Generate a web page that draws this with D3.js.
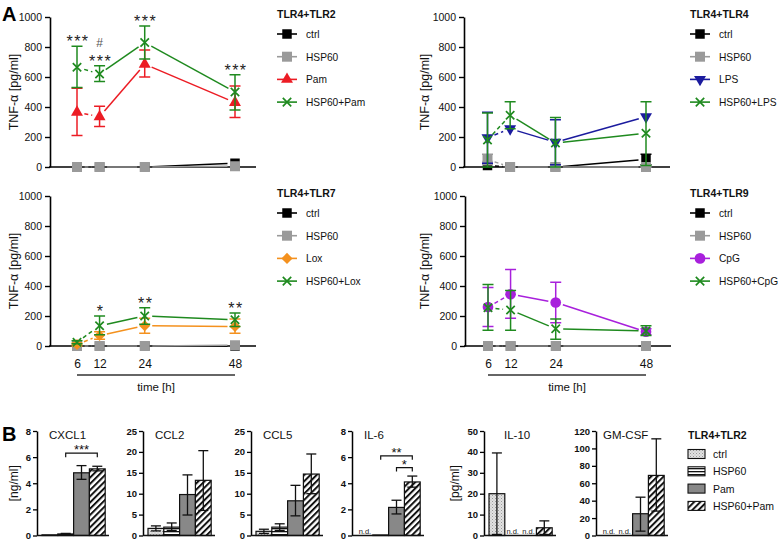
<!DOCTYPE html>
<html><head><meta charset="utf-8">
<script src="https://cdn.jsdelivr.net/npm/d3@7"></script>
<style>
body{margin:0;background:#fff}
svg{display:block;font-family:"Liberation Sans",Arial,Helvetica,sans-serif}
</style>
</head><body>
<svg id="c" width="778" height="541"></svg>
<script>
// ---------- DATA ----------
const hours = [6, 12, 24, 48];
const yTicksA = [0, 200, 400, 600, 800, 1000];

// TLR4+TLR2
const tlr2Ctrl = [0, 0, 0, 25];
const tlr2Hsp = [0, 0, 0, 5];
const tlr2Pam = [365, 335, 685, 430];
const tlr2PamLo = [210, 270, 600, 330];
const tlr2PamHi = [525, 405, 780, 540];
const tlr2Combo = [665, 620, 830, 500];
const tlr2ComboLo = [530, 570, 720, 380];
const tlr2ComboHi = [805, 675, 940, 615];
const tlr2Stars = ["***", "***", "***", "***"];
const tlr2Hash = [null, "#", null, null];

// TLR4+TLR4
const tlr4Ctrl = [10, 0, 0, 50];
const tlr4CtrlLo = [0, 0, 0, 15];
const tlr4CtrlHi = [20, 0, 0, 85];
const tlr4Hsp = [50, 0, 0, 0];
const tlr4HspLo = [15, 0, 0, 0];
const tlr4HspHi = [85, 0, 0, 0];
const tlr4Lps = [195, 255, 165, 335];
const tlr4LpsLo = [25, null, 15, null];
const tlr4LpsHi = [365, null, 315, null];
const tlr4Combo = [180, 345, 160, 225];
const tlr4ComboLo = [0, 255, 0, 10];
const tlr4ComboHi = [360, 435, 330, 435];

// TLR4+TLR7
const tlr7Ctrl = [0, 0, 0, 0];
const tlr7Hsp = [0, 0, 0, 5];
const tlr7Lox = [10, 70, 135, 130];
const tlr7LoxLo = [0, 45, 85, 85];
const tlr7LoxHi = [20, 95, 185, 180];
const tlr7Combo = [25, 135, 200, 175];
const tlr7ComboLo = [15, 75, 145, 130];
const tlr7ComboHi = [35, 200, 255, 220];
const tlr7Stars = [null, "*", "**", "**"];

// TLR4+TLR9
const tlr9Ctrl = [0, 0, 0, 0];
const tlr9Hsp = [0, 0, 0, 0];
const tlr9Cpg = [260, 345, 290, 95];
const tlr9CpgLo = [130, 185, 155, 75];
const tlr9CpgHi = [390, 510, 425, 115];
const tlr9Combo = [255, 240, 115, 100];
const tlr9ComboLo = [105, 105, 45, 70];
const tlr9ComboHi = [410, 370, 180, 135];

// Panel B
const cytokines = ["CXCL1", "CCL2", "CCL5", "IL-6", "IL-10", "GM-CSF"];
const cytoMax = [8, 25, 25, 8, 50, 120];
const cytoStep = [2, 5, 5, 2, 10, 20];
const cytoUnit = ["[ng/ml]", null, null, null, "[pg/ml]", null];
const groupsB = ["ctrl", "HSP60", "Pam", "HSP60+Pam"];
const barCtrl = [0.05, 1.7, 1.0, null, 20, null];
const barCtrlLo = [0.05, 1.1, 0.5, null, 0.5, null];
const barCtrlHi = [0.05, 2.3, 1.5, null, 39.5, null];
const barHsp = [0.12, 2.0, 2.0, 0.04, null, null];
const barHspLo = [0.08, 1.2, 1.2, 0.04, null, null];
const barHspHi = [0.16, 3.0, 2.8, 0.04, null, null];
const barPam = [4.8, 9.8, 8.3, 2.15, null, 25];
const barPamLo = [4.3, 4.9, 4.7, 1.65, null, 5];
const barPamHi = [5.35, 14.5, 12.0, 2.7, null, 44];
const barCombo = [5.1, 13.2, 14.7, 4.1, 3.7, 69];
const barComboLo = [4.95, 6.0, 10.0, 3.7, 0.5, 28];
const barComboHi = [5.3, 20.3, 19.5, 4.55, 7.0, 111];
const bracketPanel = [0, 3, 3];
const bracketFrom = [1, 1, 2];
const bracketTo = [3, 3, 3];
const bracketLevel = [6.3, 6.1, 5.2];
const bracketLabel = ["***", "**", "*"];

// ---------- STYLE ----------
const GREEN = "#1f8a1f", RED = "#ec1c24", BLUE = "#1b1b9e", ORANGE = "#f4911e", PURPLE = "#a820dc", GREY = "#9a9a9a";

const svg = d3.select("#c");
const defs = svg.append("defs");
const pC = defs.append("pattern").attr("id", "pCtrl").attr("patternUnits", "userSpaceOnUse").attr("width", 3).attr("height", 3);
pC.append("rect").attr("width", 3).attr("height", 3).attr("fill", "#e2e2e2");
pC.append("rect").attr("x", 0).attr("y", 0).attr("width", 1).attr("height", 1).attr("fill", "#9a9a9a");
pC.append("rect").attr("x", 1.5).attr("y", 1.5).attr("width", 1).attr("height", 1).attr("fill", "#b5b5b5");
const pH = defs.append("pattern").attr("id", "pHsp").attr("patternUnits", "userSpaceOnUse").attr("width", 4).attr("height", 3);
pH.append("rect").attr("width", 4).attr("height", 3).attr("fill", "#fff");
pH.append("rect").attr("y", 0).attr("width", 4).attr("height", 1.3).attr("fill", "#111");
const pX = defs.append("pattern").attr("id", "pCombo").attr("patternUnits", "userSpaceOnUse").attr("width", 4.4).attr("height", 4.4).attr("patternTransform", "rotate(45)");
pX.append("rect").attr("width", 4.4).attr("height", 4.4).attr("fill", "#fff");
pX.append("rect").attr("x", 0).attr("width", 2).attr("height", 4.4).attr("fill", "#111");
const barFills = ["url(#pCtrl)", "url(#pHsp)", "#888888", "url(#pCombo)"];

function drawMarker(g, type, color, cx, cy) {
  const m = g.append("g").attr("transform", `translate(${cx},${cy})`);
  if (type === "x") {
    m.append("path").attr("d", "M-4.2,-4.2L4.2,4.2M-4.2,4.2L4.2,-4.2")
      .attr("stroke", color).attr("stroke-width", 1.7).attr("fill", "none");
    return;
  }
  let sym = d3.symbolSquare, size = 90, rot = 0;
  if (type === "tri") { sym = d3.symbolTriangle; size = 62; }
  if (type === "tridown") { sym = d3.symbolTriangle; size = 62; rot = 180; }
  if (type === "diamond") { sym = d3.symbolSquare; size = 62; rot = 45; }
  if (type === "circle") { sym = d3.symbolCircle; size = 90; }
  if (type === "square" && color === GREY) size = 100;
  m.append("path").attr("d", d3.symbol(sym, size)()).attr("fill", color)
    .attr("transform", `rotate(${rot})`);
}

// ---------- PANEL A ----------
const panelsA = [
  { title: "TLR4+TLR2", axisX: 50, xr: [77, 235], top: 17, bottom: 167, legX: 277, ylabX: 14, xlabels: false,
    series: [
      { name: "ctrl", v: tlr2Ctrl, c: "#000", m: "square" },
      { name: "HSP60", v: tlr2Hsp, c: GREY, m: "square" },
      { name: "Pam", v: tlr2Pam, lo: tlr2PamLo, hi: tlr2PamHi, c: RED, m: "tri" },
      { name: "HSP60+Pam", v: tlr2Combo, lo: tlr2ComboLo, hi: tlr2ComboHi, c: GREEN, m: "x" }],
    stars: tlr2Stars, hash: tlr2Hash },
  { title: "TLR4+TLR4", axisX: 464, xr: [487.5, 646], top: 17, bottom: 167, legX: 690, ylabX: 425, xlabels: false,
    series: [
      { name: "ctrl", v: tlr4Ctrl, lo: tlr4CtrlLo, hi: tlr4CtrlHi, c: "#000", m: "square" },
      { name: "HSP60", v: tlr4Hsp, lo: tlr4HspLo, hi: tlr4HspHi, c: GREY, m: "square" },
      { name: "LPS", v: tlr4Lps, lo: tlr4LpsLo, hi: tlr4LpsHi, c: BLUE, m: "tridown" },
      { name: "HSP60+LPS", v: tlr4Combo, lo: tlr4ComboLo, hi: tlr4ComboHi, c: GREEN, m: "x" }] },
  { title: "TLR4+TLR7", axisX: 50, xr: [77, 235], top: 196, bottom: 346, legX: 277, ylabX: 14, xlabels: true,
    series: [
      { name: "ctrl", v: tlr7Ctrl, c: "#000", m: "square" },
      { name: "HSP60", v: tlr7Hsp, c: GREY, m: "square" },
      { name: "Lox", v: tlr7Lox, lo: tlr7LoxLo, hi: tlr7LoxHi, c: ORANGE, m: "diamond" },
      { name: "HSP60+Lox", v: tlr7Combo, lo: tlr7ComboLo, hi: tlr7ComboHi, c: GREEN, m: "x" }],
    stars: tlr7Stars },
  { title: "TLR4+TLR9", axisX: 465, xr: [488, 646], top: 196, bottom: 346, legX: 690, ylabX: 425, xlabels: true,
    series: [
      { name: "ctrl", v: tlr9Ctrl, c: "#000", m: "square" },
      { name: "HSP60", v: tlr9Hsp, c: GREY, m: "square" },
      { name: "CpG", v: tlr9Cpg, lo: tlr9CpgLo, hi: tlr9CpgHi, c: PURPLE, m: "circle" },
      { name: "HSP60+CpG", v: tlr9Combo, lo: tlr9ComboLo, hi: tlr9ComboHi, c: GREEN, m: "x" }] }
];

panelsA.forEach(p => {
  const g = svg.append("g");
  const x = d3.scaleLinear().domain([6, 48]).range(p.xr);
  const y = d3.scaleLinear().domain([0, 1000]).range([p.bottom, p.top]);
  const ya = g.append("g").attr("transform", `translate(${p.axisX},0)`)
    .call(d3.axisLeft(y).tickValues(yTicksA).tickFormat(d3.format("d")).tickSize(5).tickSizeOuter(0).tickPadding(3));
  ya.select(".domain").attr("stroke-width", 1.6);
  ya.selectAll(".tick line").attr("stroke-width", 1.4);
  ya.selectAll("text").attr("font-size", 10.5).attr("fill", "#111").attr("font-family", null);
  g.append("line").attr("x1", p.axisX - 1).attr("x2", p.axisX + 206).attr("y1", p.bottom).attr("y2", p.bottom)
    .attr("stroke", "#000").attr("stroke-width", 1.6);
  g.append("text").attr("transform", `translate(${p.ylabX + 4},${(p.top + p.bottom) / 2}) rotate(-90)`)
    .attr("text-anchor", "middle").attr("font-size", 12.5).attr("fill", "#111").text("TNF-α [pg/ml]");
  if (p.xlabels) {
    const xa = g.append("g").attr("transform", `translate(0,${p.bottom})`)
      .call(d3.axisBottom(x).tickValues(hours).tickSize(0).tickPadding(13));
    xa.select(".domain").remove();
    xa.selectAll("text").attr("font-size", 12).attr("fill", "#111").attr("font-family", null);
    g.append("line").attr("x1", x(6)).attr("x2", x(48)).attr("y1", 375).attr("y2", 375)
      .attr("stroke", "#333").attr("stroke-width", 1.6);
    g.append("text").attr("x", (x(6) + x(48)) / 2).attr("y", 391).attr("text-anchor", "middle")
      .attr("font-size", 11.5).attr("fill", "#111").text("time [h]");
  }
  p.series.forEach(s => {
    const sg = g.append("g");
    const pts = hours.map((h, i) => [x(h), y(s.v[i])]);
    for (let i = 0; i < pts.length - 1; i++) {
      const [x1, y1] = pts[i], [x2, y2] = pts[i + 1];
      const dx = x2 - x1, dy = y2 - y1, L = Math.hypot(dx, dy), gap = 7.5;
      if (L <= 2 * gap) continue;
      const ux = dx / L, uy = dy / L;
      sg.append("line").attr("x1", x1 + ux * gap).attr("y1", y1 + uy * gap)
        .attr("x2", x2 - ux * gap).attr("y2", y2 - uy * gap)
        .attr("stroke", s.c).attr("stroke-width", 1.5)
        .attr("stroke-dasharray", i === 0 ? "4,3" : null);
    }
    if (s.lo) hours.forEach((h, i) => {
      if (s.lo[i] == null) return;
      const cx = x(h), yl = y(s.lo[i]), yh = y(s.hi[i]);
      sg.append("line").attr("x1", cx).attr("x2", cx).attr("y1", yl).attr("y2", yh)
        .attr("stroke", s.c).attr("stroke-width", 1.5);
      [yl, yh].forEach(yy => sg.append("line").attr("x1", cx - 5.5).attr("x2", cx + 5.5)
        .attr("y1", yy).attr("y2", yy).attr("stroke", s.c).attr("stroke-width", 1.5));
    });
    pts.forEach(([px, py]) => drawMarker(sg, s.m, s.c, px, py));
  });
  if (p.stars) {
    hours.forEach((h, i) => {
      const top = d3.max(p.series, s => s.hi ? s.hi[i] : s.v[i]);
      const cy = y(top);
      if (p.stars[i]) g.append("text").attr("x", x(h) + 1).attr("y", cy + 1).attr("text-anchor", "middle")
        .attr("font-size", 16).attr("letter-spacing", 1.5).attr("fill", "#222").text(p.stars[i]);
      if (p.hash && p.hash[i]) g.append("text").attr("x", x(h)).attr("y", cy - 19).attr("text-anchor", "middle")
        .attr("font-size", 12).attr("fill", "#555").text(p.hash[i]);
    });
  }
  const lg = g.append("g");
  lg.append("text").attr("x", p.legX).attr("y", p.top + 1).attr("font-size", 10.5).attr("font-weight", "bold")
    .attr("fill", "#111").text(p.title);
  p.series.forEach((s, i) => {
    const ly = p.top + 17 + i * 22.7;
    lg.append("line").attr("x1", p.legX).attr("x2", p.legX + 20).attr("y1", ly).attr("y2", ly)
      .attr("stroke", s.c).attr("stroke-width", 1.6);
    drawMarker(lg, s.m, s.c, p.legX + 10, ly);
    lg.append("text").attr("x", p.legX + 29).attr("y", ly + 4).attr("font-size", 10.2).attr("fill", "#111").text(s.name);
  });
});

svg.append("text").attr("x", 2).attr("y", 21).attr("font-size", 20).attr("font-weight", "bold").text("A");
svg.append("text").attr("x", 2).attr("y", 441).attr("font-size", 20).attr("font-weight", "bold").text("B");

// ---------- PANEL B ----------
const axisXB = [37, 143, 251, 352, 484, 596];
const titleOffB = [12, 12, 12, 12, 20, 7];
const unitOffB = [19, 0, 0, 0, 25.5, 0];
const bTop = 431, bBottom = 535.5, barW = 15.8;
const barVals = [barCtrl, barHsp, barPam, barCombo];
const barLo = [barCtrlLo, barHspLo, barPamLo, barComboLo];
const barHi = [barCtrlHi, barHspHi, barPamHi, barComboHi];

cytokines.forEach((name, k) => {
  const g = svg.append("g");
  const ax = axisXB[k];
  const y = d3.scaleLinear().domain([0, cytoMax[k]]).range([bBottom, bTop]);
  const x = d3.scaleBand().domain(groupsB).range([ax + 5, ax + 5 + 4 * barW]).padding(0);
  const ticks = d3.range(0, cytoMax[k] + 0.001, cytoStep[k]);
  const ya = g.append("g").attr("transform", `translate(${ax},0)`)
    .call(d3.axisLeft(y).tickValues(ticks).tickSize(4).tickSizeOuter(0).tickPadding(2));
  ya.select(".domain").attr("stroke-width", 1.5);
  ya.selectAll(".tick line").attr("stroke-width", 1.3);
  ya.selectAll("text").attr("font-size", 9.5).attr("font-weight", "bold").attr("fill", "#111").attr("font-family", null);
  groupsB.forEach((grp, j) => {
    const v = barVals[j][k];
    const bx = x(grp);
    if (v == null) {
      g.append("text").attr("x", bx + barW / 2).attr("y", bBottom - 2).attr("text-anchor", "middle")
        .attr("font-size", 7.5).attr("fill", "#222").text("n.d.");
      return;
    }
    g.append("rect").attr("x", bx).attr("y", y(v)).attr("width", barW).attr("height", bBottom - y(v))
      .attr("fill", barFills[j]).attr("stroke", "#111").attr("stroke-width", 1.2);
    const lo = barLo[j][k], hi = barHi[j][k];
    if (lo != null && hi - lo > 0) {
      const cx = bx + barW / 2;
      g.append("line").attr("x1", cx).attr("x2", cx).attr("y1", y(lo)).attr("y2", y(hi)).attr("stroke", "#111").attr("stroke-width", 1.3);
      [lo, hi].forEach(t => g.append("line").attr("x1", cx - 5).attr("x2", cx + 5).attr("y1", y(t)).attr("y2", y(t))
        .attr("stroke", "#111").attr("stroke-width", 1.3));
    }
  });
  g.append("line").attr("x1", ax).attr("x2", ax + 72).attr("y1", bBottom).attr("y2", bBottom)
    .attr("stroke", "#111").attr("stroke-width", 1.5);
  g.append("text").attr("x", ax + titleOffB[k]).attr("y", 439).attr("font-size", 11.5).attr("fill", "#111").text(name);
  if (cytoUnit[k]) g.append("text").attr("transform", `translate(${ax - unitOffB[k]},${(bTop + bBottom) / 2}) rotate(-90)`)
    .attr("text-anchor", "middle").attr("font-size", 12).attr("fill", "#111").text(cytoUnit[k]);
  bracketPanel.forEach((bp, b) => {
    if (bp !== k) return;
    const x1 = x(groupsB[bracketFrom[b]]) + barW / 2, x2 = x(groupsB[bracketTo[b]]) + barW / 2, by = y(bracketLevel[b]);
    g.append("path").attr("d", `M${x1},${by + 4}V${by}H${x2}V${by + 4}`).attr("fill", "none")
      .attr("stroke", "#111").attr("stroke-width", 1.2);
    g.append("text").attr("x", (x1 + x2) / 2).attr("y", by + 1).attr("text-anchor", "middle")
      .attr("font-size", 13).attr("fill", "#111").text(bracketLabel[b]);
  });
});

const lgB = svg.append("g");
lgB.append("text").attr("x", 688).attr("y", 439).attr("font-size", 10.5).attr("font-weight", "bold").attr("fill", "#111").text("TLR4+TLR2");
groupsB.forEach((grp, j) => {
  const ly = 454 + j * 17.3;
  lgB.append("rect").attr("x", 688).attr("y", ly - 4.5).attr("width", 17).attr("height", 9)
    .attr("fill", barFills[j]).attr("stroke", "#111").attr("stroke-width", 1.1);
  lgB.append("text").attr("x", 713).attr("y", ly + 4).attr("font-size", 10.5).attr("fill", "#111").text(grp);
});
</script>
</body></html>
